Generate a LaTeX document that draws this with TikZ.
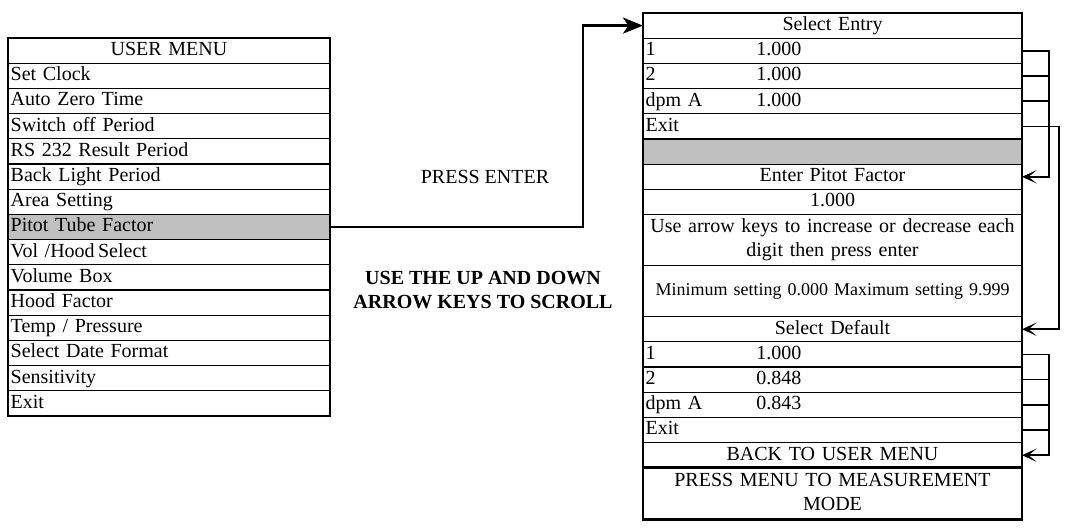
\documentclass[tikz,border=0pt]{standalone}
\usepackage{fontspec}
\setmainfont{Liberation Serif}
\usetikzlibrary{arrows.meta}

% value column of the entry rows
\newcommand{\entryval}[2]{\makebox[83pt][l]{#1}#2}

\begin{document}
\begin{tikzpicture}[x=0.75pt,y=0.75pt,yscale=-1,xscale=1,
  menurow/.style={draw, line width=0.9pt, minimum width=241.5pt, minimum height=18.9pt,
    text width=237.5pt, inner xsep=2pt, inner ysep=0pt, outer sep=0pt, align=left,
    font=\fontsize{15}{18}\selectfont,
    execute at begin node={\strut}, execute at end node={\strut}},
  menuhead/.style={menurow, align=center},
  panelrow/.style={menurow, minimum width=284.25pt, text width=280.25pt},
  panelhead/.style={panelrow, align=center},
  greyrow/.style={fill={rgb,255:red,192;green,192;blue,192}},
  enterline/.style={line width=2.2pt, -{Stealth[length=15pt,width=12pt,inset=4pt]}},
  loopline/.style={line width=1.1pt, -{Stealth[length=11pt,width=10pt,inset=6pt]}},
  stubline/.style={line width=1.1pt}]
\useasboundingbox (0,0) rectangle (1078,529);

%User menu
\node[menuhead] (um) at (169,50.6) {USER MENU};
\node[menurow] (um1) at (169,75.8) {Set Clock};
\node[menurow] (um2) at (169,101) {Auto Zero Time};
\node[menurow] (um3) at (169,126.2) {Switch off Period};
\node[menurow] (um4) at (169,151.4) {RS 232 Result Period};
\node[menurow] (um5) at (169,176.6) {Back Light Period};
\node[menurow] (um6) at (169,201.8) {Area Setting};
\node[menurow, greyrow] (pitot) at (169,227) {Pitot Tube Factor};
\node[menurow] (um8) at (169,252.2) {Vol /Hood\,Select};
\node[menurow] (um9) at (169,277.4) {Volume Box};
\node[menurow] (um10) at (169,302.6) {Hood Factor};
\node[menurow] (um11) at (169,327.8) {Temp / Pressure};
\node[menurow] (um12) at (169,353) {Select Date Format};
\node[menurow] (um13) at (169,378.2) {Sensitivity};
\node[menurow] (um14) at (169,403.4) {Exit};

%Select entry panel
\node[panelhead] (sel) at (832.5,25.6) {Select Entry};
\node[panelrow] (e1) at (832.5,50.8) {\entryval{1}{1.000}};
\node[panelrow] (e2) at (832.5,76) {\entryval{2}{1.000}};
\node[panelrow] (e3) at (832.5,101.2) {\entryval{dpm A}{1.000}};
\node[panelrow] (ex1) at (832.5,126.4) {Exit};
\node[panelrow, greyrow] (blank) at (832.5,151.6) {};

%Enter pitot factor panel
\node[panelhead] (epf) at (832.5,176.8) {Enter Pitot Factor};
\node[panelhead] (val) at (832.5,202) {1.000};
\node[panelhead, minimum height=38.25pt] (hint) at (832.5,240.1)
  {Use arrow keys to increase or decrease each\\digit then press enter};
\node[panelhead, minimum height=38.25pt, font=\fontsize{13.5}{16}\selectfont] (range) at (832.5,291.1)
  {Minimum setting 0.000 Maximum setting 9.999};

%Select default panel
\node[panelhead] (sdef) at (832.5,329.2) {Select Default};
\node[panelrow] (d1) at (832.5,354.4) {\entryval{1}{1.000}};
\node[panelrow] (d2) at (832.5,379.6) {\entryval{2}{0.848}};
\node[panelrow] (d3) at (832.5,404.8) {\entryval{dpm A}{0.843}};
\node[panelrow] (ex2) at (832.5,430) {Exit};
\node[panelhead] (back) at (832.5,455.2) {BACK TO USER MENU};
\node[panelhead, minimum height=39pt, line width=2pt] (press) at (832.5,493.8)
  {PRESS MENU TO MEASUREMENT\\MODE};

% Text Node
\node[font=\fontsize{15}{18}\selectfont] (penter) at (485,177) {PRESS ENTER};
% Text Node
\node[font=\fontsize{15}{18}\bfseries, align=center] (scroll) at (483,290)
  {USE THE UP AND DOWN\\ARROW KEYS TO SCROLL};

%Connectors
\coordinate (turn) at (583,0);
\coordinate (busA) at (1049,0);
\coordinate (busB) at (1059,0);

\draw[enterline] (pitot.east) -- (pitot.east -| turn) |- (sel.west);

\draw[loopline] (e1.east) -- (e1.east -| busA) |- (epf.east);
\draw[stubline] (e2.east) -- (e2.east -| busA);
\draw[stubline] (e3.east) -- (e3.east -| busA);
\draw[loopline] (ex1.east) -- (ex1.east -| busB) |- (sdef.east);

\draw[loopline] (d1.east) -- (d1.east -| busA) |- (back.east);
\draw[stubline] (d2.east) -- (d2.east -| busA);
\draw[stubline] (d3.east) -- (d3.east -| busA);
\draw[stubline] (ex2.east) -- (ex2.east -| busA);

\end{tikzpicture}
\end{document}
